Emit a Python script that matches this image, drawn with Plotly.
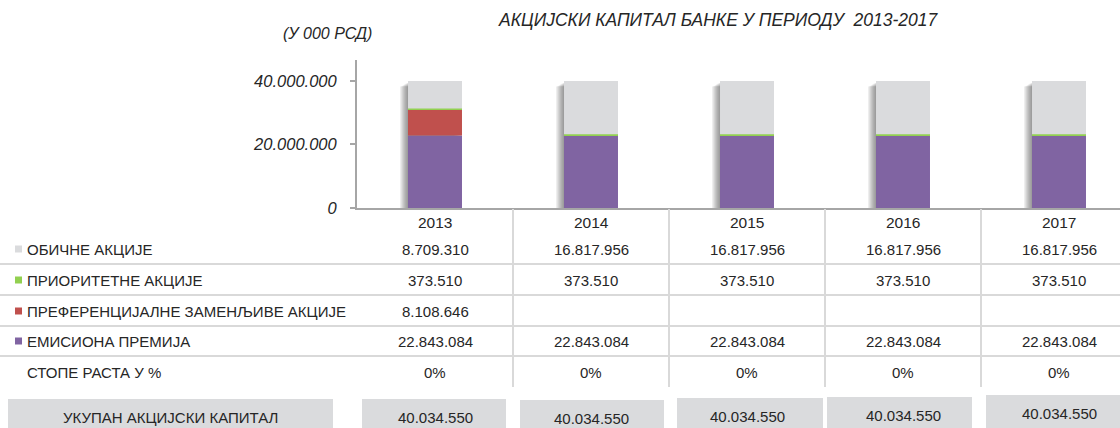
import plotly.graph_objects as go

# data (in 000 RSD)
years = ["2013", "2014", "2015", "2016", "2017"]
emission_premium = [22843084, 22843084, 22843084, 22843084, 22843084]
preferred_convertible = [8108646, None, None, None, None]
priority_shares = [373510, 373510, 373510, 373510, 373510]
ordinary_shares = [8709310, 16817956, 16817956, 16817956, 16817956]
growth_rates = [0, 0, 0, 0, 0]
y_ticks = [0, 20000000, 40000000]

# stacked bottom -> top
series = [
    ("ЕМИСИОНА ПРЕМИЈА", emission_premium, "#8064A2"),
    ("ПРЕФЕРЕНЦИЈАЛНЕ ЗАМЕНЉИВЕ АКЦИЈЕ", preferred_convertible, "#C0504D"),
    ("ПРИОРИТЕТНЕ АКЦИЈЕ", priority_shares, "#92D050"),
    ("ОБИЧНЕ АКЦИЈЕ", ordinary_shares, "#DADBDD"),
]
# table rows, top -> bottom
table_rows = list(reversed(series))

W, H = 1120, 428
PLOT_L, PLOT_T, PLOT_B = 357, 60, 208
CAT_W = 156
Y_MAX = 46_610_000
BAR_W = 0.346

FONT = "Liberation Sans, Arial, sans-serif"
TXT = "#262626"
GRID = "#D9D9D9"
AXIS = "#A6A6A6"
CELL = 15


def px(x):
    return x / W


def py(y):
    return (H - y) / H


def fmt(v):
    return "" if v is None else f"{v:,}".replace(",", ".")


totals = [sum(v or 0 for v in vals) for vals in zip(*[s[1] for s in series])]

fig = go.Figure()

# soft shadow on the left of each column (stacked translucent layers)
y_per_px = Y_MAX / (PLOT_B - PLOT_T)
for k in range(1, 7):
    fig.add_trace(go.Bar(
        x=years, y=totals, base=-(k * 0.7 + 1.5) * y_per_px,
        width=BAR_W, offset=-BAR_W / 2 - k * 1.3 / CAT_W,
        marker=dict(color="rgba(60,60,60,0.11)", line=dict(width=0)),
        hoverinfo="skip", showlegend=False,
    ))

base = [0] * len(years)
for name, vals, color in series:
    fig.add_trace(go.Bar(
        x=years, y=vals, base=list(base), name=name,
        width=BAR_W, marker=dict(color=color, line=dict(width=0)),
        showlegend=False,
    ))
    base = [b + (v or 0) for b, v in zip(base, vals)]

shapes = []
annotations = []


def cell(i, y, text, size=CELL):
    annotations.append(dict(x=i, y=py(y), xref="x", yref="paper", text=text,
                            showarrow=False, yanchor="middle",
                            font=dict(family=FONT, size=size, color=TXT)))


def label(x, y, text, anchor="left", size=CELL):
    annotations.append(dict(x=px(x), y=py(y), xref="paper", yref="paper", text=text,
                            showarrow=False, xanchor=anchor, yanchor="middle",
                            font=dict(family=FONT, size=size, color=TXT)))


# year labels under the axis
for i, yr in enumerate(years):
    cell(i, 222, yr, 15.5)

# table grid: horizontal row separators
row_y = [249, 280, 311, 341, 372]
row_lines = [264, 295, 326, 356]
for y in row_lines:
    shapes.append(dict(type="line", xref="paper", yref="paper",
                       x0=px(0), x1=1, y0=py(y), y1=py(y),
                       line=dict(color=GRID, width=2)))
# vertical separators between years
for i in range(len(years) - 1):
    shapes.append(dict(type="line", xref="x", yref="paper",
                       x0=i + 0.5, x1=i + 0.5, y0=py(PLOT_B + 1), y1=py(387),
                       line=dict(color=GRID, width=2)))

for r, (name, vals, color) in enumerate(table_rows):
    yc = row_y[r]
    shapes.append(dict(type="rect", xref="paper", yref="paper",
                       x0=px(15), x1=px(22), y0=py(yc + 3.5), y1=py(yc - 3.5),
                       fillcolor=color, line=dict(width=0)))
    label(25, yc, name)
    for i, v in enumerate(vals):
        cell(i, yc, fmt(v))

label(25, row_y[4], "СТОПЕ РАСТА У %")
for i, g in enumerate(growth_rates):
    cell(i, row_y[4], f"{g}%")

# total row boxes
BOX = "#DADBDD"
shapes.append(dict(type="rect", xref="paper", yref="paper", x0=px(8), x1=px(333),
                   y0=py(399), y1=py(440), fillcolor=BOX, line=dict(width=0), layer="below"))
label(170, 417, "УКУПАН АКЦИЈСКИ КАПИТАЛ", anchor="center")
box_spans = [(362, 506, 399), (520, 664, 400), (677, 823, 398), (827, 972, 397), (986, 1120, 395)]
for i, ((x0, x1, top), t) in enumerate(zip(box_spans, totals)):
    shapes.append(dict(type="rect", xref="paper", yref="paper", x0=px(x0), x1=px(x1),
                       y0=py(top), y1=py(440), fillcolor=BOX, line=dict(width=0), layer="below"))
    cell(i, top + 18, fmt(t))

# titles
label(718, 20, "<i>АКЦИЈСКИ КАПИТАЛ БАНКЕ У ПЕРИОДУ&nbsp; 2013-2017</i>", anchor="center", size=17.5)
label(327, 34, "<i>(У 000 РСД)</i>", anchor="center", size=16)

fig.update_layout(
    width=W, height=H,
    margin=dict(l=0, r=0, t=0, b=0),
    barmode="overlay",
    plot_bgcolor="white", paper_bgcolor="white",
    separators=",.",
    showlegend=False,
    xaxis=dict(
        type="category", domain=[px(PLOT_L), 1], automargin=False,
        range=[-0.5, -0.5 + (W - PLOT_L) / CAT_W],
        showline=True, linecolor=AXIS, linewidth=2,
        showgrid=False, ticks="", zeroline=False, showticklabels=False,
    ),
    yaxis=dict(
        domain=[py(PLOT_B), py(PLOT_T)], range=[0, Y_MAX], automargin=False,
        showline=True, linecolor=AXIS, linewidth=2,
        showgrid=False, zeroline=False,
        ticks="outside", ticklen=5, tickcolor=AXIS, tickwidth=2,
        tickvals=y_ticks, tickformat=",d", ticklabelstandoff=10,
        tickfont=dict(family=FONT, size=16.5, color=TXT, style="italic"),
    ),
    shapes=shapes,
    annotations=annotations,
)

fig.write_html("out.html", config={"displayModeBar": False},
               post_script="document.body.style.margin='0';")
